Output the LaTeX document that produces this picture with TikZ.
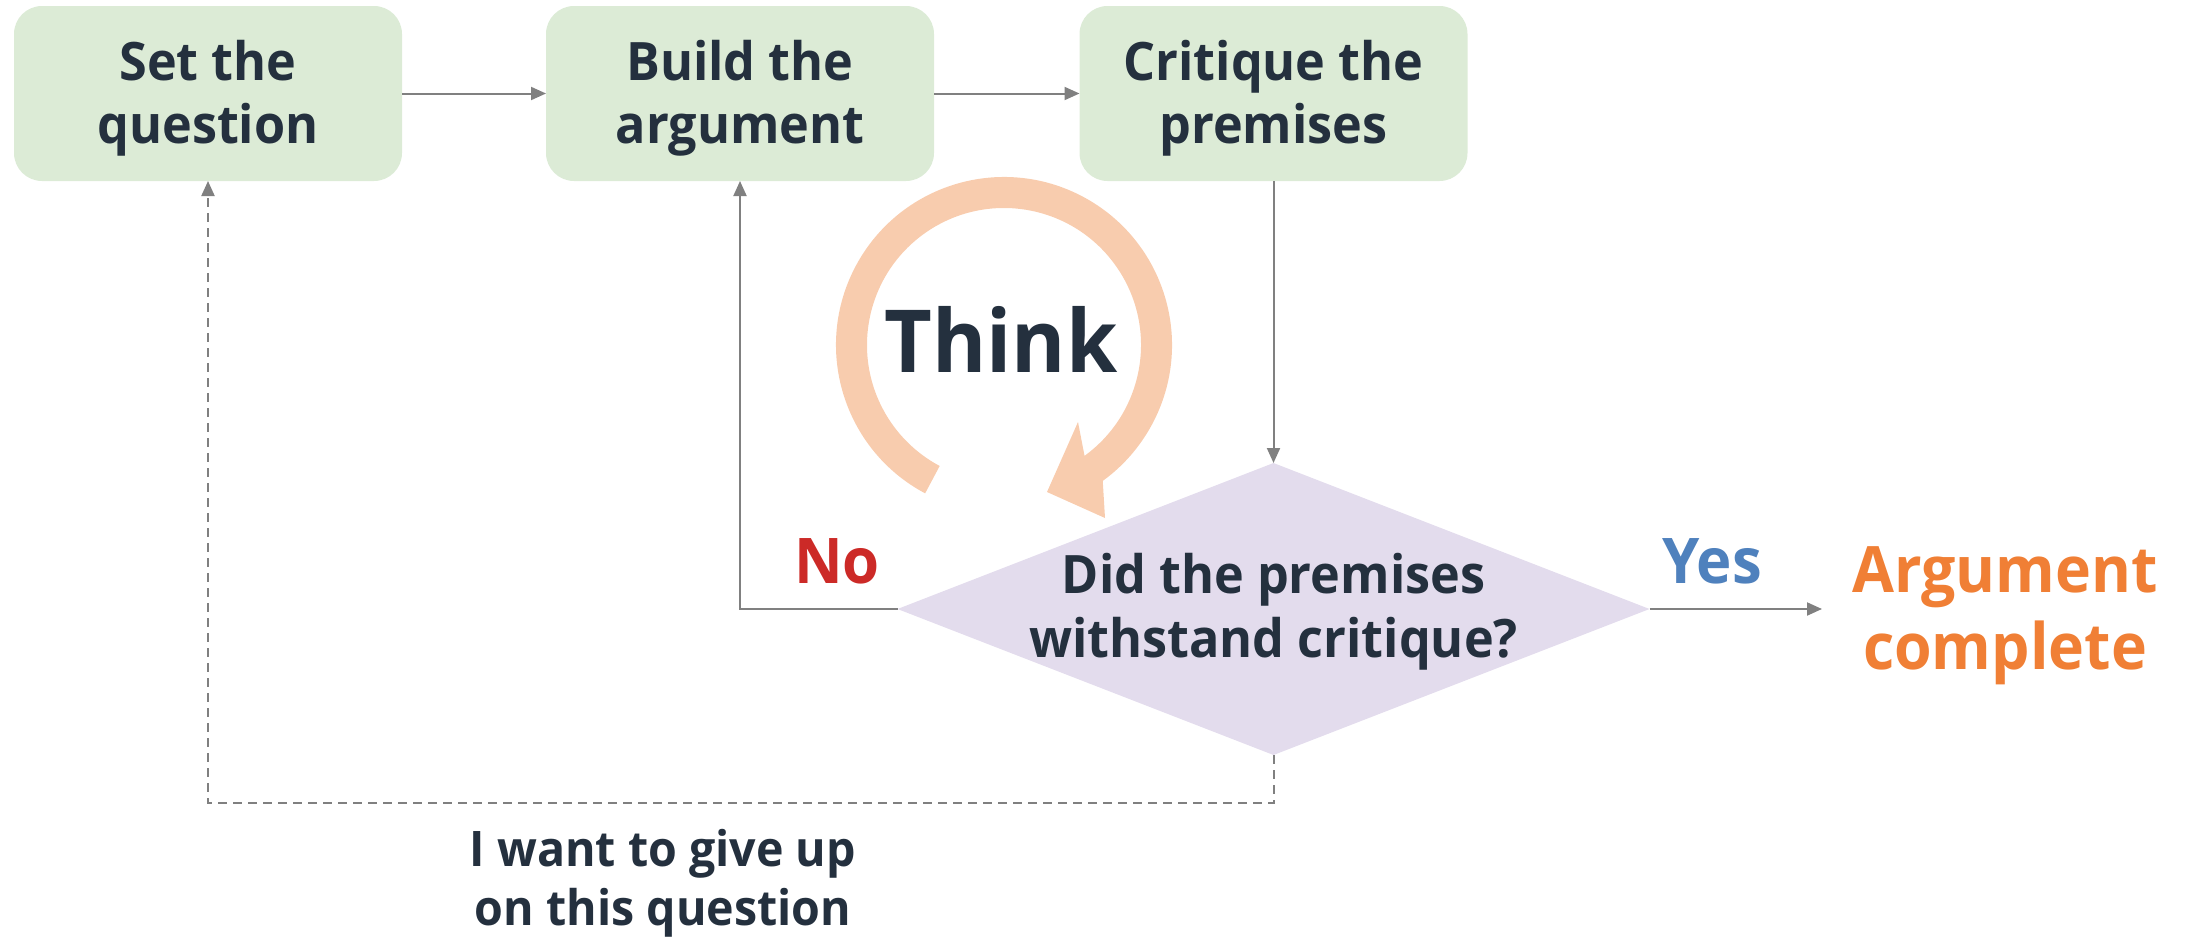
\documentclass[tikz,border=0pt]{standalone}
\usepackage{fontspec}
\setmainfont{Open Sans}[FakeStretch=0.95]
\usetikzlibrary{arrows.meta,shapes.geometric}
\definecolor{boxgreen}{HTML}{DCEBD6}
\definecolor{declav}{HTML}{E3DCED}
\definecolor{peach}{HTML}{F8CCAE}
\definecolor{navy}{HTML}{24303E}
\definecolor{arrgray}{HTML}{808080}
\definecolor{nored}{HTML}{CC2A27}
\definecolor{yesblue}{HTML}{4F81BD}
\definecolor{argorange}{HTML}{F07F35}
\newcommand{\firstln}{\rule{0pt}{50pt}}
\begin{document}
\begin{tikzpicture}[x=1pt,y=-1pt,
  stepbox/.style={rectangle, rounded corners=28pt, fill=boxgreen, minimum width=388pt,
    minimum height=175pt, inner sep=0pt, outer sep=0pt, align=center, text=navy,
    font=\bfseries\fontsize{53}{63}\selectfont},
  conn/.style={draw=arrgray, line width=2pt, -{Triangle[length=15pt,width=13pt]}},
  dashconn/.style={conn, dash pattern=on 9pt off 6pt}
]
\useasboundingbox (0,0) rectangle (2187,937);
% step boxes
\node[stepbox] (s1) at (208,93.5) {\firstln Set the\\question};
\node[stepbox] (s2) at (740,93.5) {\firstln Build the\\argument};
\node[stepbox] (s3) at (1273.5,93.5) {\firstln Critique the\\premises};
% decision
\node[diamond, fill=declav, minimum width=752pt, minimum height=292pt, inner sep=0pt, outer sep=0pt] (dec) at (1273.5,609) {};
\node[inner sep=0pt, align=center, text=navy, font=\bfseries\fontsize{53}{64}\selectfont] (dectext) at (1273.5,612) {Did the premises\\withstand critique?};
% think loop
\begin{scope}[shift={(1004,345)}]
\fill[peach] (118:168) arc[start angle=118, end angle=414, radius=168]
  -- (101,173) -- (43,147) -- (74,77) -- (414:137)
  arc[start angle=414, end angle=118, radius=137] -- cycle;
\end{scope}
\node[anchor=base, inner sep=0pt, text=navy, font=\bfseries\fontsize{87}{100}\selectfont] (think) at (1001,372) {Think};
% labels
\node[anchor=base, inner sep=0pt, text=nored, font=\bfseries\fontsize{63}{70}\selectfont] (no) at (837,583) {No};
\node[anchor=base, inner sep=0pt, text=yesblue, font=\bfseries\fontsize{63}{70}\selectfont] (yes) at (1712,583) {Yes};
\node[inner sep=0pt, align=center, text=argorange, font=\bfseries\fontsize{64}{77}\selectfont] (done) at (2005,616) {Argument\\complete};
\node[inner sep=0pt, align=center, text=navy, font=\bfseries\fontsize{49}{59}\selectfont] (giveup) at (663,883) {I want to give up\\on this question};
% connectors
\coordinate (yesend) at (1822,609);
\coordinate (gy) at (0,803);
\draw[conn] (s1.east) -- (s2.west);
\draw[conn] (s2.east) -- (s3.west);
\draw[conn] (s3.south) -- (dec.north);
\draw[conn] (dec.west) -| (s2.south);
\draw[conn] (dec.east) -- (yesend);
\draw[dashconn] (dec.south) -- (dec.south |- gy) -| (s1.south);
\end{tikzpicture}
\end{document}
